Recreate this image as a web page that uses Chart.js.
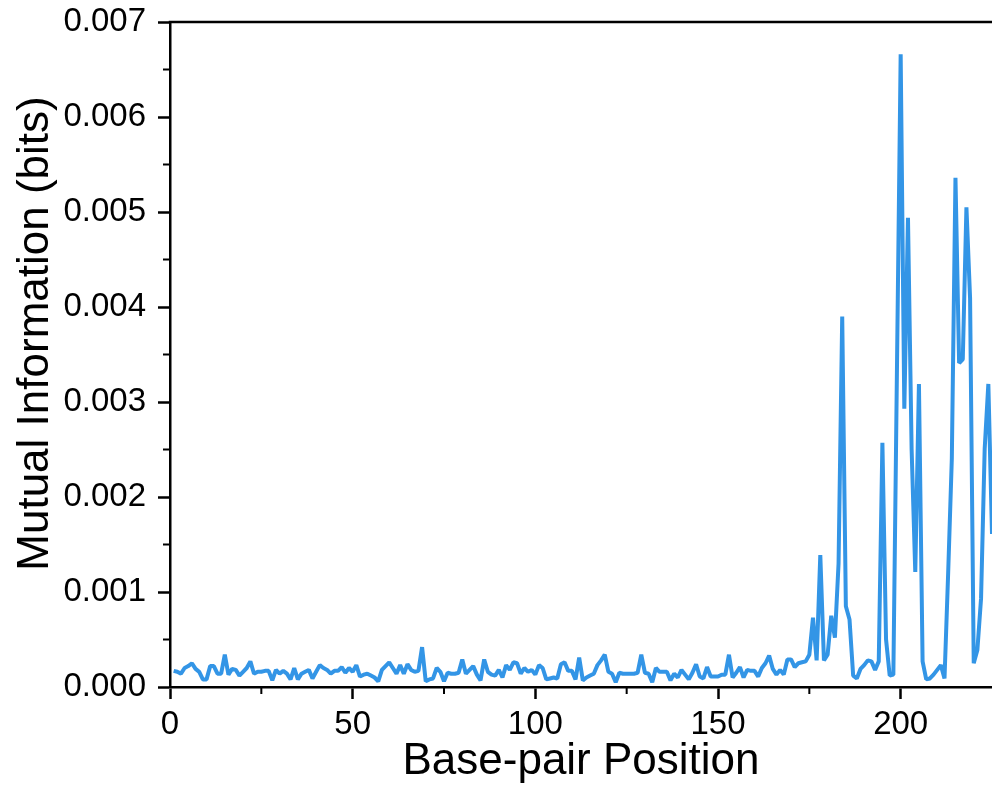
<!DOCTYPE html>
<html>
<head>
<meta charset="utf-8">
<script src="https://cdn.jsdelivr.net/npm/chart.js@4.4.0/dist/chart.umd.min.js"></script>
<style>
  html, body { margin: 0; padding: 0; background: #ffffff; }
  #wrap { width: 992px; height: 788px; }
</style>
</head>
<body>
<div id="wrap"><canvas id="chart" width="992" height="788"></canvas></div>
<script>
// Mutual information per base-pair position (bits), positions 1..225
const firstPosition = 1;
const mutualInfo = [
  0.00017, 0.00016, 0.00014, 0.00020, 0.00022, 0.00025, 0.00019, 0.00016, 0.00008, 0.00008, 0.00022, 0.00022, 0.00014, 0.00014, 0.00034,
  0.00013, 0.00019, 0.00018, 0.00012, 0.00016, 0.00020, 0.00027, 0.00014, 0.00016, 0.00016, 0.00017, 0.00017, 0.00007, 0.00018, 0.00014,
  0.00017, 0.00014, 0.00008, 0.00020, 0.00008, 0.00014, 0.00016, 0.00018, 0.00009, 0.00016, 0.00023, 0.00020, 0.00018, 0.00014, 0.00017,
  0.00017, 0.00021, 0.00015, 0.00020, 0.00016, 0.00023, 0.00011, 0.00013, 0.00014, 0.00012, 0.00010, 0.00006, 0.00018, 0.00022, 0.00026,
  0.00020, 0.00014, 0.00023, 0.00014, 0.00024, 0.00018, 0.00016, 0.00017, 0.00042, 0.00006, 0.00008, 0.00009, 0.00020, 0.00016, 0.00006,
  0.00015, 0.00014, 0.00014, 0.00015, 0.00029, 0.00014, 0.00018, 0.00022, 0.00013, 0.00007, 0.00029, 0.00016, 0.00013, 0.00012, 0.00018,
  0.00010, 0.00023, 0.00018, 0.00026, 0.00025, 0.00014, 0.00020, 0.00016, 0.00018, 0.00013, 0.00023, 0.00020, 0.00008, 0.00009, 0.00010,
  0.00009, 0.00024, 0.00026, 0.00017, 0.00017, 0.00008, 0.00031, 0.00007, 0.00010, 0.00012, 0.00014, 0.00023, 0.00028, 0.00034, 0.00016,
  0.00014, 0.00005, 0.00015, 0.00014, 0.00014, 0.00014, 0.00014, 0.00015, 0.00034, 0.00015, 0.00014, 0.00005, 0.00020, 0.00016, 0.00016,
  0.00016, 0.00007, 0.00014, 0.00010, 0.00018, 0.00013, 0.00008, 0.00015, 0.00024, 0.00011, 0.00009, 0.00021, 0.00011, 0.00011, 0.00011,
  0.00013, 0.00013, 0.00034, 0.00010, 0.00015, 0.00021, 0.00010, 0.00018, 0.00017, 0.00017, 0.00011, 0.00020, 0.00025, 0.00033, 0.00019,
  0.00013, 0.00018, 0.00013, 0.00029, 0.00029, 0.00021, 0.00025, 0.00026, 0.00027, 0.00034, 0.00073, 0.00028, 0.00139, 0.00028, 0.00034,
  0.00075, 0.00052, 0.00130, 0.00390, 0.00085, 0.00071, 0.00012, 0.00009, 0.00019, 0.00023, 0.00028, 0.00027, 0.00018, 0.00027, 0.00257,
  0.00050, 0.00012, 0.00013, 0.00340, 0.00666, 0.00293, 0.00494, 0.00250, 0.00121, 0.00319, 0.00027, 0.00008, 0.00009, 0.00013, 0.00018,
  0.00023, 0.00009, 0.00120, 0.00240, 0.00536, 0.00341, 0.00345, 0.00505, 0.00409, 0.00025, 0.00039, 0.00093, 0.00251, 0.00319, 0.00161
];

// Axis ticks
const xMajorTicks = [0, 50, 100, 150, 200];
const xMinorTicks = [25, 75, 125, 175];
const yMajorTicks = [0, 0.001, 0.002, 0.003, 0.004, 0.005, 0.006, 0.007];
const yMinorTicks = [0.0005, 0.0015, 0.0025, 0.0035, 0.0045, 0.0055, 0.0065];

const xRange = [0, 225];
const yRange = [0, 0.007];

const xTitle = 'Base-pair Position';
const yTitle = 'Mutual Information (bits)';

const points = mutualInfo.map((v, i) => ({ x: firstPosition + i, y: v }));

const FONT = "'Liberation Sans', Arial, Helvetica, sans-serif";

// Minor ticks, the top frame line and the vertical axis title
const frameExtras = {
  id: 'frameExtras',
  afterDraw(chart) {
    const { ctx, chartArea, scales } = chart;
    const xs = scales.x, ys = scales.y;
    ctx.save();
    ctx.strokeStyle = '#000000';
    ctx.lineWidth = 2.5;
    ctx.lineCap = 'butt';
    ctx.beginPath();
    ctx.moveTo(chartArea.left - 1.25, chartArea.top);
    ctx.lineTo(chartArea.right, chartArea.top);
    ctx.stroke();

    ctx.lineWidth = 2;
    ctx.beginPath();
    yMinorTicks.forEach(v => {
      const py = ys.getPixelForValue(v);
      ctx.moveTo(chartArea.left - 7, py);
      ctx.lineTo(chartArea.left, py);
    });
    xMinorTicks.forEach(v => {
      const px = xs.getPixelForValue(v);
      ctx.moveTo(px, chartArea.bottom);
      ctx.lineTo(px, chartArea.bottom + 7);
    });
    ctx.stroke();

    // y-axis title, set a little above the plot's vertical centre
    ctx.translate(35.5, ys.getPixelForValue(0.0035) - 21);
    ctx.rotate(-Math.PI / 2);
    ctx.fillStyle = '#000000';
    ctx.font = '44px ' + FONT;
    ctx.textAlign = 'center';
    ctx.textBaseline = 'middle';
    ctx.fillText(yTitle, 0, 0);
    ctx.restore();
  }
};

Chart.defaults.font.family = FONT;
Chart.defaults.color = '#000000';

new Chart(document.getElementById('chart'), {
  type: 'line',
  data: {
    datasets: [{
      data: points,
      borderColor: '#3395e6',
      borderWidth: 4,
      borderJoinStyle: 'bevel',
      pointRadius: 0,
      tension: 0,
      fill: false
    }]
  },
  options: {
    responsive: false,
    animation: false,
    devicePixelRatio: 1,
    layout: { padding: { top: 22, right: 0, bottom: 0, left: 0 } },
    plugins: { legend: { display: false }, tooltip: { enabled: false } },
    scales: {
      x: {
        type: 'linear',
        min: xRange[0],
        max: xRange[1],
        afterBuildTicks(scale) { scale.ticks = xMajorTicks.map(v => ({ value: v })); },
        afterFit(scale) { scale.height = 101; scale.paddingLeft = 0; scale.paddingRight = 0; },
        border: { display: true, color: '#000000', width: 2.5 },
        grid: { drawOnChartArea: false, drawTicks: true, tickLength: 12, tickWidth: 2.5, tickColor: '#000000' },
        ticks: { font: { size: 33 }, color: '#000000', padding: 6, maxRotation: 0, autoSkip: false,
                 callback: v => String(v) },
        title: { display: true, text: xTitle, font: { size: 44 }, color: '#000000', padding: { top: 0, bottom: 0 } }
      },
      y: {
        type: 'linear',
        min: yRange[0],
        max: yRange[1],
        afterBuildTicks(scale) { scale.ticks = yMajorTicks.map(v => ({ value: v })); },
        afterFit(scale) { scale.width = 170; scale.paddingTop = 0; scale.paddingBottom = 0; },
        border: { display: true, color: '#000000', width: 2.5 },
        grid: { drawOnChartArea: false, drawTicks: true, tickLength: 12, tickWidth: 2.5, tickColor: '#000000' },
        ticks: { font: { size: 33 }, color: '#000000', padding: 12, autoSkip: false,
                 callback: v => Number(v).toFixed(3) },
        title: { display: false }
      }
    }
  },
  plugins: [frameExtras]
});
</script>
</body>
</html>
